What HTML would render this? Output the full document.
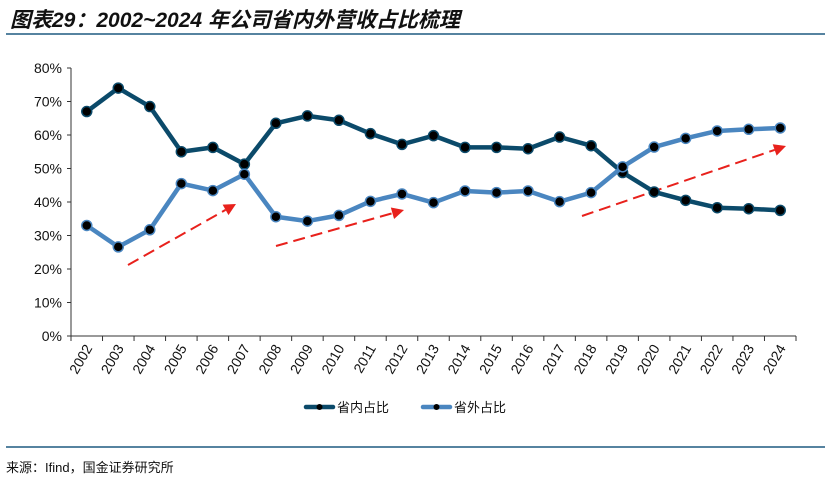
<!DOCTYPE html>
<html><head><meta charset="utf-8">
<style>
body{margin:0;background:#fff;width:831px;height:479px;overflow:hidden;font-family:"Liberation Sans","Noto Sans CJK SC",sans-serif;}
#title{position:absolute;left:10px;top:4px;font-size:21px;font-style:italic;font-weight:bold;color:#111;font-family:"Liberation Sans","Noto Sans CJK SC",sans-serif;}
#src{position:absolute;left:6px;top:457px;font-size:13px;color:#111;}
</style></head><body>
<div id="title">图表29：2002~2024 年公司省内外营收占比梳理</div>
<svg id="chart" width="831" height="479" style="position:absolute;left:0;top:0"></svg>
<div id="src">来源：Ifind，国金证券研究所</div>
<script>
const categories=["2002","2003","2004","2005","2006","2007","2008","2009","2010","2011","2012","2013","2014","2015","2016","2017","2018","2019","2020","2021","2022","2023","2024"];
const inProvince=[67,74,68.5,55,56.3,51.3,63.5,65.7,64.4,60.4,57.2,59.8,56.3,56.3,55.9,59.4,56.8,48.8,43,40.5,38.3,38,37.5];
const outProvince=[33,26.6,31.7,45.5,43.4,48.3,35.6,34.3,36,40.2,42.4,39.8,43.3,42.8,43.3,40.1,42.8,50.5,56.4,59,61.2,61.7,62.1];
const yTicks=[0,10,20,30,40,50,60,70,80];
const seriesNames=["省内占比","省外占比"];
const NS="http://www.w3.org/2000/svg";
const svg=document.getElementById('chart');
const L=71,R=796,T=68,B=336;
const bw=(R-L)/categories.length;
const x=i=>L+bw*(i+0.5);
const y=v=>B-(v/80)*(B-T);
function mk(t,a,p){const e=document.createElementNS(NS,t);for(const k in a)e.setAttribute(k,a[k]);(p||svg).appendChild(e);return e;}
// header/footer lines
let e=mk('line',{x1:6,y1:34,x2:825,y2:34,stroke:'#1f5a80','stroke-width':1.5});


e=mk('line',{x1:6,y1:447,x2:825,y2:447,stroke:'#1f5a80','stroke-width':1.5});


// axes
e=mk('line',{x1:L,y1:T,x2:L,y2:B,stroke:'#333','stroke-width':1});


e=mk('line',{x1:L,y1:B,x2:R,y2:B,stroke:'#333','stroke-width':1});


yTicks.forEach(v=>{
 mk('line',{x1:L-4,y1:y(v),x2:L,y2:y(v),stroke:'#333'});
 const t=mk('text',{x:L-9,y:y(v)+5,'text-anchor':'end','font-size':14,fill:'#111'});t.textContent=v+'%';
 
 
});
for(let i=0;i<=categories.length;i++){mk('line',{x1:L+bw*i,y1:B,x2:L+bw*i,y2:B+5,stroke:'#333'});}
categories.forEach((c,i)=>{
 const t=mk('text',{x:x(i)+6,y:B+12,'text-anchor':'end','font-size':14,fill:'#111',transform:`rotate(-60 ${x(i)+6} ${B+12})`});t.textContent=c;
 
 
});
// arrows
function arrow(x1,y1,x2,y2){
 const g=mk('g',{});
 
 
 const a=Math.atan2(y2-y1,x2-x1),h=12;
 const bx=x2-h*Math.cos(a),by=y2-h*Math.sin(a);
 mk('line',{x1,y1,x2:bx,y2:by,stroke:'#e8211c','stroke-width':2,'stroke-dasharray':'12,6'},g);
 const px=-Math.sin(a)*6,py=Math.cos(a)*6;
 mk('polygon',{points:`${x2},${y2} ${bx+px},${by+py} ${bx-px},${by-py}`,fill:'#e8211c'},g);
}
arrow(128,265,236,204);arrow(276,246,404,210);arrow(582,216,786,146);
function series(vals,col,name){
 const g=mk('g',{});
 
 
 mk('polyline',{points:vals.map((v,i)=>x(i)+','+y(v)).join(' '),fill:'none',stroke:col,'stroke-width':4.5,'stroke-linejoin':'round'},g);
 vals.forEach((v,i)=>{const c=mk('circle',{cx:x(i),cy:y(v),r:5,fill:'#000',stroke:col,'stroke-width':1.5},g);
 
 });
}
series(inProvince,'#0b4a6a','series-in-province');
series(outProvince,'#4a86c0','series-out-province');
// legend
[[0,'#0b4a6a',306],[1,'#4a86c0',423]].forEach(([k,col,lx])=>{
 const g=mk('g',{});
 
 
 mk('line',{x1:lx,y1:407,x2:lx+27,y2:407,stroke:col,'stroke-width':4.5,'stroke-linecap':'round'},g);
 mk('circle',{cx:lx+13.5,cy:407,r:3,fill:'#000'},g);
 const t=mk('text',{x:lx+31,y:412,'font-size':13,fill:'#111'},g);t.textContent=seriesNames[k];
});
</script>
</body></html>
